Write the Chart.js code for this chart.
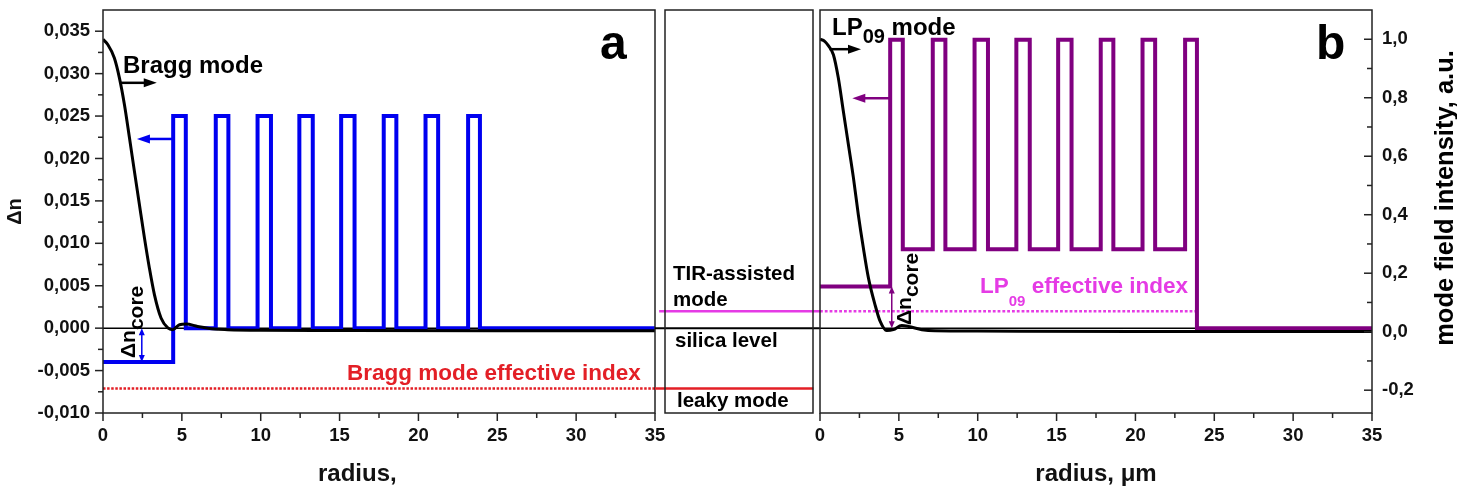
<!DOCTYPE html>
<html>
<head>
<meta charset="utf-8">
<script src="https://cdn.jsdelivr.net/npm/chart.js@4.4.1/dist/chart.umd.min.js"></script>
<style>
  body { margin: 0; background: #fff; }
  canvas { position: absolute; left: 0; top: 0; }
</style>
</head>
<body>
<canvas id="panelA" width="1457" height="486"></canvas>
<canvas id="middle" width="1457" height="486"></canvas>
<canvas id="panelB" width="1457" height="486"></canvas>
<script>
// index profiles: step points (radius, um) -> delta n
const profileR = [0, 4.45, 5.25, 7.15, 7.95, 9.8, 10.65, 12.45, 13.3, 15.1, 15.95, 17.8, 18.6, 20.45, 21.25, 23.15, 23.9, 35];
const braggDn = [-0.004, 0.025, 0, 0.025, 0, 0.025, 0, 0.025, 0, 0.025, 0, 0.025, 0, 0.025, 0, 0.025, 0, 0];
const lp09Dn = [0.0049, 0.034, 0.0093, 0.034, 0.0093, 0.034, 0.0093, 0.034, 0.0093, 0.034, 0.0093, 0.034, 0.0093, 0.034, 0.0093, 0.034, 0, 0];

// effective indices
const braggNeff = -0.0071;
const lp09Neff = 0.002;
const braggNeffR = [0, 35];
const lp09NeffR = [0, 23.8];
const silicaR = [0, 35];

// mode field intensity
const braggFieldR = [0, 0.3, 0.72, 1.04, 1.36, 1.68, 1.99, 2.31, 2.63, 2.94, 3.26, 3.68, 4.11, 4.42, 4.85, 5.27, 6.0, 7.07, 7.9, 10, 15, 25, 35];
const braggField = [1.0, 0.982, 0.936, 0.868, 0.776, 0.662, 0.549, 0.434, 0.320, 0.218, 0.127, 0.047, 0.013, 0.007, 0.024, 0.026, 0.018, 0.009, 0.007, 0.005, 0.004, 0.003, 0.003];
const lp09FieldR = [0, 0.3, 0.53, 0.85, 1.16, 1.48, 1.80, 2.12, 2.43, 2.75, 3.07, 3.49, 3.81, 4.23, 4.65, 5.18, 5.61, 6.46, 7.3, 10, 20, 35];
const lp09Field = [1.0, 0.993, 0.978, 0.947, 0.868, 0.754, 0.640, 0.526, 0.400, 0.286, 0.184, 0.092, 0.036, 0.004, 0.007, 0.021, 0.018, 0.007, 0.003, 0.002, 0.001, 0.001];

// middle legend box samples (x in 0..1 of the box)
const legendTirX = [0.025, 1];
const legendSilicaX = [0, 1];
const legendLeakyX = [0, 0.96];

// ticks
const radiusTicks = [0, 5, 10, 15, 20, 25, 30, 35];
const indexTicks = [-0.010, -0.005, 0, 0.005, 0.010, 0.015, 0.020, 0.025, 0.030, 0.035];
const fieldTicks = [-0.2, 0, 0.2, 0.4, 0.6, 0.8, 1.0];
const indexMin = -0.01, indexMax = 0.0375;
const fieldMin = -0.278, fieldMax = 1.1;

const FONT = '"Liberation Sans", Arial, sans-serif';
const BLUE = '#0000f0', PURPLE = '#800080', MAGENTA = '#e53be5', RED = '#e31f26';
Chart.defaults.font.family = FONT;

function pts(xs, ys){
    return xs.map((x, i) => ({ x: x, y: ys[i] }));
}
function fixTicks(values){
    return (scale) => { scale.ticks = values.map(v => ({ value: v })); };
}
function fixWidth(w){
    return (scale) => { scale.width = w; scale.paddingTop = 0; scale.paddingBottom = 0; };
}
function fixHeight(h){
    return (scale) => { scale.height = h; scale.paddingLeft = 0; scale.paddingRight = 0; };
}
const tickFont = { family: FONT, size: 18.5, weight: 'bold' };

function drawTicks(chart, t){
    const ctx = chart.ctx, a = chart.chartArea, s = chart.scales[t.scale];
    const minor = t.values.slice(1).map((v, i) => (v + t.values[i]) / 2);
    ctx.strokeStyle = '#222';
    ctx.lineWidth = 1.5;
    [[t.values, 8], [minor, 5]].forEach(([vals, len]) => {
        vals.forEach(v => {
            const p = s.getPixelForValue(v);
            ctx.beginPath();
            if(t.edge === 'bottom'){
                ctx.moveTo(p, a.bottom); ctx.lineTo(p, a.bottom + len);
            }else{
                const x0 = t.edge === 'left' ? a.left : a.right;
                ctx.moveTo(x0, p); ctx.lineTo(x0 + t.dir * len, p);
            }
            ctx.stroke();
        });
    });
}

function arrowHead(ctx, x, y, ang, hl, hw){
    ctx.beginPath();
    ctx.moveTo(x, y);
    ctx.lineTo(x - hl * Math.cos(ang) + hw * Math.sin(ang), y - hl * Math.sin(ang) - hw * Math.cos(ang));
    ctx.lineTo(x - hl * Math.cos(ang) - hw * Math.sin(ang), y - hl * Math.sin(ang) + hw * Math.cos(ang));
    ctx.closePath();
    ctx.fill();
}

function drawArrow(chart, ar){
    const ctx = chart.ctx, xs = chart.scales.x, ys = chart.scales[ar.scale];
    const x1 = xs.getPixelForValue(ar.from[0]), y1 = ys.getPixelForValue(ar.from[1]);
    const x2 = xs.getPixelForValue(ar.to[0]), y2 = ys.getPixelForValue(ar.to[1]);
    const ang = Math.atan2(y2 - y1, x2 - x1);
    const hl = ar.hl || 13, hw = ar.hw || 4.5;
    ctx.strokeStyle = ar.color;
    ctx.fillStyle = ar.color;
    ctx.lineWidth = ar.width || 2.5;
    const sx = ar.double ? x1 + hl * 0.8 * Math.cos(ang) : x1;
    const sy = ar.double ? y1 + hl * 0.8 * Math.sin(ang) : y1;
    ctx.beginPath();
    ctx.moveTo(sx, sy);
    ctx.lineTo(x2 - hl * 0.8 * Math.cos(ang), y2 - hl * 0.8 * Math.sin(ang));
    ctx.stroke();
    arrowHead(ctx, x2, y2, ang, hl, hw);
    if(ar.double) arrowHead(ctx, x1, y1, ang + Math.PI, hl, hw);
}

function drawRich(ctx, t){
    ctx.save();
    ctx.translate(t.x, t.y);
    if(t.rot) ctx.rotate(t.rot);
    ctx.fillStyle = t.color || '#000';
    ctx.textBaseline = 'alphabetic';
    ctx.textAlign = 'left';
    let total = 0;
    t.parts.forEach(p => { ctx.font = `bold ${p.s}px ${FONT}`; total += ctx.measureText(p.t).width; });
    let x = t.align === 'center' ? -total / 2 : 0;
    t.parts.forEach(p => {
        ctx.font = `bold ${p.s}px ${FONT}`;
        ctx.fillText(p.t, x, p.dy || 0);
        x += ctx.measureText(p.t).width;
    });
    ctx.restore();
}

function decor(cfg){
    return {
        id: 'decor',
        afterDraw(chart){
            const ctx = chart.ctx, a = chart.chartArea;
            ctx.save();
            ctx.strokeStyle = '#222';
            ctx.lineWidth = 1.5;
            if(cfg.frame) ctx.strokeRect(a.left, a.top, a.right - a.left, a.bottom - a.top);
            if(cfg.box) ctx.strokeRect(a.left + 10, a.top, a.right - a.left - 17, a.bottom - a.top);
            (cfg.ticks || []).forEach(t => drawTicks(chart, t));
            (cfg.arrows || []).forEach(ar => drawArrow(chart, ar));
            (cfg.texts || []).forEach(t => drawRich(ctx, t));
            ctx.restore();
        }
    };
}

const baseOptions = {
    responsive: false,
    animation: false,
    events: [],
    elements: { point: { radius: 0 } },
    plugins: { legend: { display: false }, tooltip: { enabled: false } }
};

function radiusAxis(){
    return {
        type: 'linear', min: 0, max: 35, position: 'bottom',
        grid: { display: false, drawTicks: false }, border: { display: false },
        ticks: { font: tickFont, color: '#111', padding: 12, autoSkip: false, maxRotation: 0 },
        afterBuildTicks: fixTicks(radiusTicks), afterFit: fixHeight(73)
    };
}

// panel a
new Chart(document.getElementById('panelA'), {
    type: 'line',
    data: {
        datasets: [
            { data: pts(braggFieldR, braggField), yAxisID: 'y2', borderColor: '#000', borderWidth: 3, cubicInterpolationMode: 'monotone' },
            { data: pts(profileR, braggDn), yAxisID: 'y', borderColor: BLUE, borderWidth: 4, stepped: true },
            { data: pts(silicaR, [0, 0]), yAxisID: 'y', borderColor: '#000', borderWidth: 1.5 },
            { data: pts(braggNeffR, [braggNeff, braggNeff]), yAxisID: 'y', borderColor: RED, borderWidth: 2.5, borderDash: [2.5, 1.6] }
        ]
    },
    options: Object.assign({}, baseOptions, {
        layout: { padding: { left: 0, top: 10, right: 802, bottom: 0 } },
        scales: {
            x: radiusAxis(),
            y: {
                position: 'left', min: indexMin, max: indexMax,
                grid: { display: false, drawTicks: false }, border: { display: false },
                ticks: { font: tickFont, color: '#111', padding: 13, autoSkip: false,
                         callback: (v) => v.toFixed(3).replace('.', ',') },
                afterBuildTicks: fixTicks(indexTicks), afterFit: fixWidth(103),
                title: { display: true, text: 'Δn', color: '#111', font: { family: FONT, size: 20, weight: 'bold' }, padding: { top: 3, bottom: 0 } }
            },
            y2: { display: false, min: fieldMin, max: fieldMax }
        }
    }),
    plugins: [decor({
        frame: true,
        ticks: [
            { scale: 'x', values: radiusTicks, edge: 'bottom' },
            { scale: 'y', values: indexTicks, edge: 'left', dir: -1 }
        ],
        arrows: [
            { scale: 'y2', from: [1.07, 0.851], to: [3.41, 0.851], color: '#000' },
            { scale: 'y', from: [4.45, 0.0223], to: [2.15, 0.0223], color: BLUE },
            { scale: 'y', from: [2.46, 0], to: [2.46, -0.004], color: BLUE, double: true, width: 1.5, hl: 7, hw: 3 }
        ],
        texts: [
            { x: 123, y: 73, parts: [{ t: 'Bragg mode', s: 24 }] },
            { x: 600, y: 59, parts: [{ t: 'a', s: 48 }] },
            { x: 347, y: 380, color: RED, parts: [{ t: 'Bragg mode effective index', s: 22.5 }] },
            { x: 135, y: 358, rot: -Math.PI / 2, parts: [{ t: 'Δn', s: 21 }, { t: 'core', s: 21, dy: 8 }] },
            { x: 318, y: 481, color: '#111', parts: [{ t: 'radius,', s: 24 }] }
        ]
    })]
});

// middle legend box
new Chart(document.getElementById('middle'), {
    type: 'line',
    data: {
        datasets: [
            { data: pts(legendTirX, [lp09Neff, lp09Neff]), borderColor: MAGENTA, borderWidth: 2.5 },
            { data: pts(legendSilicaX, [0, 0]), borderColor: '#000', borderWidth: 2 },
            { data: pts(legendLeakyX, [braggNeff, braggNeff]), borderColor: RED, borderWidth: 2.5 }
        ]
    },
    options: Object.assign({}, baseOptions, {
        layout: { padding: { left: 655, top: 10, right: 637, bottom: 73 } },
        scales: {
            x: { type: 'linear', min: 0, max: 1, display: false },
            y: { min: indexMin, max: indexMax, display: false }
        }
    }),
    plugins: [decor({
        box: true,
        texts: [
            { x: 673, y: 280, parts: [{ t: 'TIR-assisted', s: 20.5 }] },
            { x: 673, y: 306, parts: [{ t: 'mode', s: 20.5 }] },
            { x: 675, y: 347, parts: [{ t: 'silica level', s: 20.5 }] },
            { x: 677, y: 407, parts: [{ t: 'leaky mode', s: 20.5 }] }
        ]
    })]
});

// panel b
new Chart(document.getElementById('panelB'), {
    type: 'line',
    data: {
        datasets: [
            { data: pts(lp09FieldR, lp09Field), yAxisID: 'y2', borderColor: '#000', borderWidth: 3, cubicInterpolationMode: 'monotone' },
            { data: pts(profileR, lp09Dn), yAxisID: 'y', borderColor: PURPLE, borderWidth: 4, stepped: true },
            { data: pts(silicaR, [0, 0]), yAxisID: 'y', borderColor: '#000', borderWidth: 1.5 },
            { data: pts(lp09NeffR, [lp09Neff, lp09Neff]), yAxisID: 'y', borderColor: MAGENTA, borderWidth: 2.5, borderDash: [2.8, 2] }
        ]
    },
    options: Object.assign({}, baseOptions, {
        layout: { padding: { left: 820, top: 10, right: 0, bottom: 0 } },
        scales: {
            x: radiusAxis(),
            y: { display: false, min: indexMin, max: indexMax },
            y2: {
                position: 'right', min: fieldMin, max: fieldMax,
                grid: { display: false, drawTicks: false }, border: { display: false },
                ticks: { font: tickFont, color: '#111', padding: 10, autoSkip: false,
                         callback: (v) => v.toFixed(1).replace('.', ',') },
                afterBuildTicks: fixTicks(fieldTicks), afterFit: fixWidth(85)
            }
        }
    }),
    plugins: [decor({
        frame: true,
        ticks: [
            { scale: 'x', values: radiusTicks, edge: 'bottom' },
            { scale: 'y2', values: fieldTicks, edge: 'right', dir: -1 }
        ],
        arrows: [
            { scale: 'y2', from: [0.6, 0.966], to: [2.6, 0.966], color: '#000' },
            { scale: 'y', from: [4.45, 0.0271], to: [2.05, 0.0271], color: PURPLE },
            { scale: 'y', from: [4.55, 0.0049], to: [4.55, 0], color: PURPLE, double: true, width: 1.5, hl: 7, hw: 3 }
        ],
        texts: [
            { x: 832, y: 35, parts: [{ t: 'LP', s: 24 }, { t: '09', s: 20, dy: 8 }, { t: ' mode', s: 24 }] },
            { x: 1316, y: 59, parts: [{ t: 'b', s: 48 }] },
            { x: 980, y: 293, color: MAGENTA, parts: [{ t: 'LP', s: 22.5 }, { t: '09', s: 15, dy: 13 }, { t: ' effective index', s: 22.5 }] },
            { x: 911, y: 325, rot: -Math.PI / 2, parts: [{ t: 'Δn', s: 21 }, { t: 'core', s: 21, dy: 7 }] },
            { x: 1453, y: 198, rot: -Math.PI / 2, align: 'center', parts: [{ t: 'mode field intensity, a.u.', s: 25.5 }] },
            { x: 1096, y: 481, align: 'center', color: '#111', parts: [{ t: 'radius, μm', s: 24 }] }
        ]
    })]
});
</script>
</body>
</html>
